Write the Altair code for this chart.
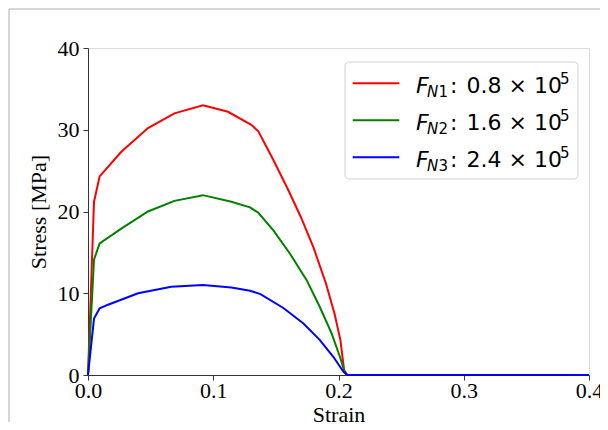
import altair as alt
import pandas as pd

# ---- data ----
red_x = [0, 0.0048, 0.0093, 0.0266, 0.0479, 0.069, 0.0918, 0.1118, 0.1304, 0.136, 0.148, 0.16, 0.17, 0.18, 0.19, 0.197, 0.2015, 0.2045, 0.207, 0.4]
red_y = [0, 21.2, 24.3, 27.3, 30.2, 32.0, 33.0, 32.2, 30.6, 29.8, 26.3, 22.6, 19.3, 15.6, 11.2, 7.4, 4.3, 0.6, 0, 0]

green_x = [0, 0.0048, 0.0093, 0.0266, 0.0479, 0.069, 0.0918, 0.1145, 0.1294, 0.136, 0.148, 0.161, 0.1746, 0.185, 0.1945, 0.2012, 0.205, 0.207, 0.4]
green_y = [0, 14.1, 16.1, 17.9, 20.0, 21.3, 22.0, 21.2, 20.5, 19.85, 17.7, 14.9, 11.6, 8.35, 5.1, 2.2, 0.3, 0, 0]

blue_x = [0, 0.0048, 0.0093, 0.016, 0.04, 0.0665, 0.0918, 0.1145, 0.1294, 0.1377, 0.156, 0.172, 0.185, 0.196, 0.204, 0.207, 0.4]
blue_y = [0, 6.9, 8.15, 8.6, 10.0, 10.8, 11.0, 10.7, 10.3, 9.9, 8.2, 6.3, 4.3, 2.2, 0.4, 0, 0]

series_names = ["FN1", "FN2", "FN3"]
series_colors = ["#ff0000", "#008000", "#0000ff"]
legend_values = ["0.8", "1.6", "2.4"]
legend_subs = ["1", "2", "3"]
x_ticks = [0, 0.1, 0.2, 0.3, 0.4]
y_ticks = [0, 10, 20, 30, 40]

rows = []
for name, xs, ys in zip(series_names, [red_x, green_x, blue_x], [red_y, green_y, blue_y]):
    for i, (a, b) in enumerate(zip(xs, ys)):
        rows.append({"series": name, "strain": a, "stress": b, "i": i})
df = pd.DataFrame(rows)

SERIF = "Liberation Serif"
SANS = "DejaVu Sans"

lines = alt.Chart(df).mark_line(strokeWidth=2, clip=False).encode(
    x=alt.X("strain:Q", title="Strain",
            scale=alt.Scale(domain=[0, 0.4], nice=False, zero=False),
            axis=alt.Axis(values=x_ticks, format=".1f", grid=False,
                          labelFont=SERIF, labelFontSize=22, labelColor="black",
                          titleFont=SERIF, titleFontSize=22, titleFontWeight="normal",
                          titleColor="black", tickSize=5, tickColor="#333",
                          domainColor="#333", labelPadding=0, titlePadding=3,
                          labelFlush=False)),
    y=alt.Y("stress:Q", title="Stress [MPa]",
            scale=alt.Scale(domain=[0, 40], nice=False),
            axis=alt.Axis(values=y_ticks, format="d", grid=False,
                          labelFont=SERIF, labelFontSize=22, labelColor="black",
                          titleFont=SERIF, titleFontSize=22, titleFontWeight="normal",
                          titleColor="black", tickSize=5, tickColor="#333",
                          domainColor="#333", labelPadding=4, titlePadding=7,
                          labelFlush=False)),
    color=alt.Color("series:N", scale=alt.Scale(domain=series_names, range=series_colors), legend=None),
    order="i:Q",
)

layers = [lines]

# outer frame (figure border)
frame_left = alt.Chart(pd.DataFrame({"a": [0]})).mark_rule(color="#c8c8c8", strokeWidth=1.5).encode(
    x=alt.value(-79), y=alt.value(-39), y2=alt.value(400))
frame_top = alt.Chart(pd.DataFrame({"a": [0]})).mark_rule(color="#c8c8c8", strokeWidth=1.5).encode(
    x=alt.value(-79), x2=alt.value(520), y=alt.value(-39))
layers += [frame_left, frame_top]

# custom legend
box = alt.Chart(pd.DataFrame({"a": [0]})).mark_rect(
    fill="white", stroke="#d0d0d0", strokeWidth=1, cornerRadius=4).encode(
    x=alt.value(257), x2=alt.value(490), y=alt.value(14), y2=alt.value(131))
layers.append(box)

row_gap = 37
for k in range(3):
    ly = 35.3 + k * row_gap
    base = 44.7 + k * row_gap
    layers.append(alt.Chart(pd.DataFrame({"a": [0]})).mark_rule(
        color=series_colors[k], strokeWidth=2).encode(
        x=alt.value(264.7), x2=alt.value(311.3), y=alt.value(ly)))
    pieces = [
        ("F", 328, base, 22, "italic"),
        ("N", 339, base + 4, 15, "italic"),
        (legend_subs[k], 350.5, base + 4, 15, "normal"),
        (":", 362, base, 22, "normal"),
        (legend_values[k] + " \u00d7 10", 378.5, base, 22, "normal"),
        ("5", 472, base - 9, 15, "normal"),
    ]
    for txt, px, py, fs, st in pieces:
        layers.append(alt.Chart(pd.DataFrame({"t": [txt]})).mark_text(
            font=SANS, fontSize=fs, fontStyle=st, align="left", baseline="alphabetic",
            color="black").encode(text="t:N", x=alt.value(px), y=alt.value(py)))

chart = alt.layer(*layers).properties(
    width=501, height=327,
    autosize=alt.AutoSizeParams(type="none"),
    padding={"left": 80, "top": 40, "right": 11, "bottom": 47},
).configure_view(stroke="#333", strokeWidth=1.2).configure(background="white")

chart.save("out.html", embed_options={"renderer": "svg", "actions": False})
